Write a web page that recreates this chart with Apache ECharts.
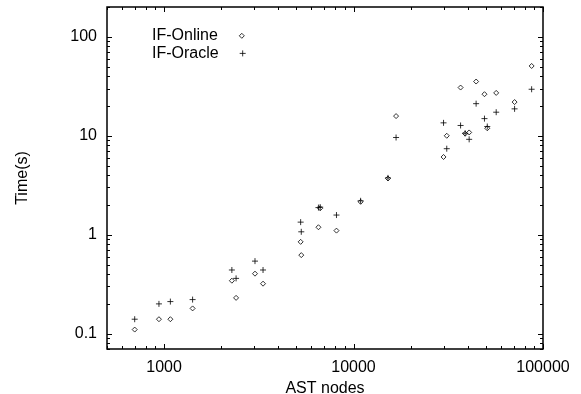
<!DOCTYPE html>
<html><head><meta charset="utf-8">
<script src="https://cdn.jsdelivr.net/npm/echarts@6/dist/echarts.min.js"></script>
<style>html,body{margin:0;padding:0;background:#fff}#c{width:581px;height:394px}</style>
</head><body><div id="c"></div>
<script>
// AST node counts (x) for each benchmark
const astNodes = [700, 940, 1080, 1415, 2280, 2400, 3020, 3330, 5260, 5300, 6530, 6670, 8130, 10900, 15200, 16770, 29860, 31050, 36730, 38820, 40770, 44360, 49110, 50800, 56620, 70800, 87100];
// Time (s) for IF-Online
const ifOnline = [0.11, 0.14, 0.14, 0.18, 0.343, 0.23, 0.404, 0.32, 0.847, 0.622, 1.19, 1.85, 1.10, 2.15, 3.70, 15.8, 6.1, 10.0, 30.7, 10.5, 10.8, 35.3, 26.3, 11.9, 27.1, 21.9, 50.7];
// Time (s) for IF-Oracle
const ifOracle = [0.14, 0.20, 0.211, 0.221, 0.44, 0.362, 0.541, 0.44, 1.34, 1.07, 1.88, 1.90, 1.58, 2.2, 3.75, 9.6, 13.5, 7.4, 12.7, 10.6, 9.2, 21.1, 14.9, 12.4, 17.3, 18.7, 29.5];

const seriesNames = ['IF-Online', 'IF-Oracle'];
const xRange = [500, 100000];
const yRange = [0.07, 200];
const xMajorTicks = [1000, 10000, 100000];
const yMajorTicks = [0.1, 1, 10, 100];

function logTicks(lo, hi) {
  const out = [];
  for (let e = Math.floor(Math.log10(lo)); e <= Math.ceil(Math.log10(hi)); e++) {
    for (let m = 1; m <= 9; m++) {
      const v = m * Math.pow(10, e);
      if (v >= lo * 0.999 && v <= hi * 1.001) out.push([v, m === 1]);
    }
  }
  return out;
}
const xTickData = logTicks(xRange[0], xRange[1]).map(t => [t[0], 1, t[1] ? 5 : 3]);
const yTickData = logTicks(yRange[0], yRange[1]).map(t => [1000, t[0], t[1] ? 5 : 3]);

function isMajor(v, list) {
  return list.some(m => Math.abs(Math.log10(v) - Math.log10(m)) < 1e-6);
}
function fmt(v) { return String(Number(v.toPrecision(6))); }

const FONT = 'Liberation Sans, Arial, Helvetica, sans-serif';
const chart = echarts.init(document.getElementById('c'), null, {renderer: 'canvas'});
const lineStyle = {stroke: '#000', lineWidth: 1};

function legendFor(name, top, size) {
  return {
    data: [name],
    orient: 'vertical',
    align: 'right',
    left: 152,
    top: top,
    padding: 0,
    itemGap: 0,
    itemWidth: size,
    itemHeight: size,
    itemStyle: {borderWidth: 1},
    textStyle: {fontFamily: FONT, fontSize: 16, color: '#000', lineHeight: 17.6, padding: [0, 19 - size / 2, 0, 0]}
  };
}

chart.setOption({
  animation: false,
  backgroundColor: '#fff',
  grid: {left: 107, right: 38, top: 7, bottom: 45, show: true, borderColor: '#000', borderWidth: 1.5,
    backgroundColor: 'transparent', containLabel: false, outerBoundsMode: 'none'},
  legend: [legendFor(seriesNames[0], 27, 5), legendFor(seriesNames[1], 44.6, 6)],
  xAxis: {
    type: 'log', logBase: 10, min: xRange[0], max: xRange[1],
    name: 'AST nodes', nameLocation: 'middle', nameGap: 26,
    nameTextStyle: {fontFamily: FONT, fontSize: 16, color: '#000'},
    axisLine: {show: false}, axisTick: {show: false}, splitLine: {show: false},
    axisLabel: {fontFamily: FONT, fontSize: 16, color: '#000', margin: 11, showMinLabel: false,
      formatter: v => isMajor(v, xMajorTicks) ? fmt(v) : ''}
  },
  yAxis: {
    type: 'log', logBase: 10, min: yRange[0], max: yRange[1],
    name: 'Time(s)', nameLocation: 'middle', nameGap: 76, nameRotate: 90,
    nameTextStyle: {fontFamily: FONT, fontSize: 16, color: '#000'},
    axisLine: {show: false}, axisTick: {show: false}, splitLine: {show: false},
    axisLabel: {fontFamily: FONT, fontSize: 16, color: '#000', margin: 10, showMinLabel: false, showMaxLabel: false,
      formatter: v => isMajor(v, yMajorTicks) ? fmt(v) : ''}
  },
  series: [
    {
      name: seriesNames[0], type: 'scatter',
      data: astNodes.map((x, i) => [x, ifOnline[i]]),
      symbol: 'diamond', symbolSize: 5,
      itemStyle: {color: 'rgba(255,255,255,0)', borderColor: '#000', borderWidth: 1}
    },
    {
      name: seriesNames[1], type: 'scatter',
      data: astNodes.map((x, i) => [x, ifOracle[i]]),
      symbol: 'path://M0,5L10,5M5,0L5,10', symbolSize: 6,
      itemStyle: {color: 'rgba(255,255,255,0)', borderColor: '#000', borderWidth: 1}
    },
    {
      type: 'custom', silent: true, clip: false, data: xTickData,
      renderItem: (params, api) => {
        const cs = params.coordSys;
        const px = Math.round(api.coord([api.value(0), 1])[0]) + 0.5;
        const len = api.value(2);
        const b = cs.y + cs.height, t = cs.y;
        return {type: 'group', children: [
          {type: 'line', shape: {x1: px, y1: b, x2: px, y2: b - len}, style: lineStyle},
          {type: 'line', shape: {x1: px, y1: t, x2: px, y2: t + len}, style: lineStyle}
        ]};
      }
    },
    {
      type: 'custom', silent: true, clip: false, data: yTickData,
      renderItem: (params, api) => {
        const cs = params.coordSys;
        const py = Math.round(api.coord([1000, api.value(1)])[1]) + 0.5;
        const len = api.value(2);
        const l = cs.x, r = cs.x + cs.width;
        return {type: 'group', children: [
          {type: 'line', shape: {x1: l, y1: py, x2: l + len, y2: py}, style: lineStyle},
          {type: 'line', shape: {x1: r, y1: py, x2: r - len, y2: py}, style: lineStyle}
        ]};
      }
    }
  ]
});
</script></body></html>
